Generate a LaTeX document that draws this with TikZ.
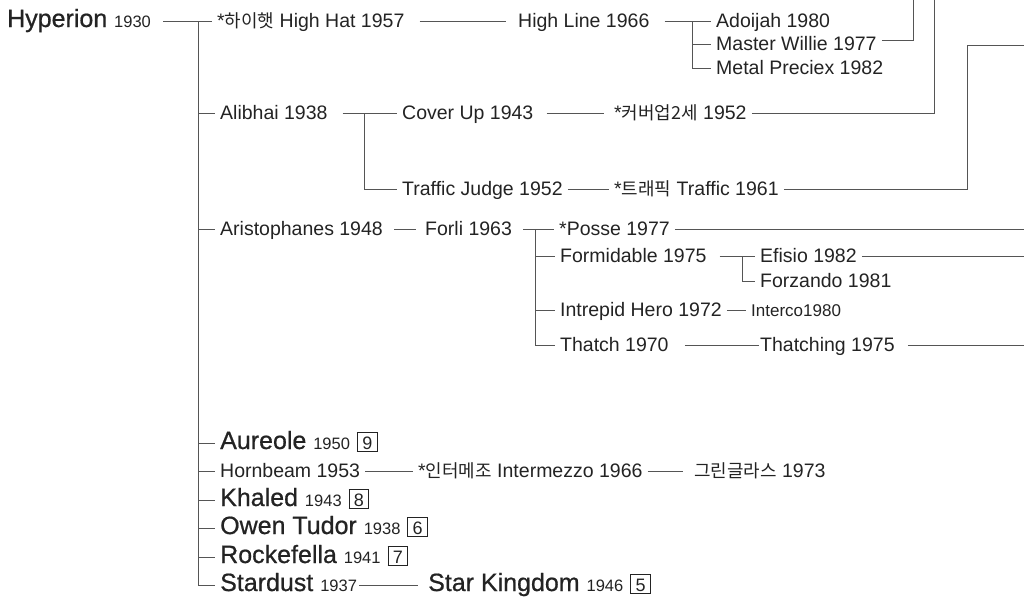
\documentclass[tikz,border=0pt]{standalone}
\usepackage{fontspec}
\setmainfont{Liberation Sans}
\newfontfamily\namefont{Liberation Sans}[FakeBold=0.7]
\newfontfamily\kr{Noto Sans CJK KR}[Scale=0.92]
\usepackage{tikz}
\usetikzlibrary{positioning}
\definecolor{ink}{RGB}{35,35,35}
\definecolor{wire}{RGB}{85,85,85}
\newcommand{\yr}{\normalfont\fontsize{16.5}{18}\selectfont}
\newcommand{\bnum}[1]{{\normalfont\setlength{\fboxsep}{0pt}\setlength{\fboxrule}{0.8pt}%
  \fbox{\makebox[19pt]{\rule[-2pt]{0pt}{18pt}\fontsize{18}{20}\selectfont #1}}}}

\begin{document}
\begin{tikzpicture}[
  x=1pt, y=-1pt,
  nm/.style={anchor=west, inner xsep=5pt, inner ysep=0pt,
             text height=14pt, text depth=2pt, text=ink,
             font=\fontsize{19.5}{22}\selectfont},
  big/.style={nm, font=\namefont\fontsize{25}{28}\selectfont},
  sm/.style={nm, font=\fontsize{17}{20}\selectfont},
  ln/.style={draw=wire, line width=0.9pt}
]
  \useasboundingbox (0,0) rectangle (1024,600);

  % sire line and first branch
  \node[big] (hyp)      at (2,21)   {Hyperion {\yr 1930}};
  \node[nm]  (highhat)  at (212,21) {*{\kr 하이햇} High Hat 1957};
  \node[nm]  (highline) at (513,21) {High Line 1966};
  \node[nm]  (adoijah)  at (711,21) {Adoijah 1980};
  \node[nm]  (willie)   at (711,44) {Master Willie 1977};
  \node[nm]  (metal)    at (711,68) {Metal Preciex 1982};

  \node[nm] (alibhai)  at (215,113) {Alibhai 1938};
  \node[nm] (coverup)  at (397,113) {Cover Up 1943};
  \node[nm] (coverup2) at (609,113) {*{\kr 커버업2세} 1952};
  \node[nm] (tjudge)   at (397,189) {Traffic Judge 1952};
  \node[nm] (traffic2) at (609,189) {*{\kr 트래픽} Traffic 1961};

  \node[nm] (aristo)    at (215,229) {Aristophanes 1948};
  \node[nm] (forli)     at (420,229) {Forli 1963};
  \node[nm] (posse)     at (554,229) {*Posse 1977};
  \node[nm] (formid)    at (555,256) {Formidable 1975};
  \node[nm] (efisio)    at (755,256) {Efisio 1982};
  \node[nm] (forzando)  at (755,281) {Forzando 1981};
  \node[nm] (intrepid)  at (555,310) {Intrepid Hero 1972};
  \node[sm] (interco)   at (746,310) {Interco1980};
  \node[nm] (thatch)    at (555,345) {Thatch 1970};
  \node[nm] (thatching) at (755,345) {Thatching 1975};

  % lower sons
  \node[big] (aureole)    at (215,443) {Aureole {\yr 1950} \bnum{9}};
  \node[nm]  (hornbeam)   at (215,471) {Hornbeam 1953};
  \node[nm]  (intermezzo) at (413,471) {*{\kr 인터메조} Intermezzo 1966};
  \node[nm]  (greenglass) at (689,471) {{\kr 그린글라스} 1973};
  \node[big] (khaled)     at (215,500) {Khaled {\yr 1943} \bnum{8}};
  \node[big] (owen)       at (215,528) {Owen Tudor {\yr 1938} \bnum{6}};
  \node[big] (rockef)     at (215,557) {Rockefella {\yr 1941} \bnum{7}};
  \node[big] (stardust)   at (215,585) {Stardust {\yr 1937}};
  \node[big] (starking)   at (423,585) {Star Kingdom {\yr 1946} \bnum{5}};

  % forks
  \coordinate (trk) at (198,21);
  \coordinate (fkH) at (692,21);
  \coordinate (fkA) at (364,113);
  \coordinate (fkF) at (535,229);
  \coordinate (fkM) at (742,256);
  \coordinate (fkT) at (967,45);
  \coordinate (topW) at (913,0);
  \coordinate (topC) at (934,0);
  \coordinate (edge) at (1024,45);

  \draw[ln, shorten <=7pt] (hyp.east) -- (highhat.west);
  \draw[ln] (trk) |- (stardust.west);
  \foreach \n in {alibhai,aristo,aureole,hornbeam,khaled,owen,rockef}
    \draw[ln] (trk |- \n.west) -- (\n.west);

  \draw[ln, shorten <=10pt, shorten >=7pt] (highhat.east) -- (highline.west);
  \draw[ln, shorten <=10pt] (highline.east) -- (adoijah.west);
  \draw[ln] (fkH) |- (metal.west);
  \draw[ln] (fkH |- willie.west) -- (willie.west);

  \draw[ln, shorten <=10pt] (alibhai.east) -- (coverup.west);
  \draw[ln] (fkA) |- (tjudge.west);
  \draw[ln, shorten <=8pt, shorten >=5pt] (coverup.east) -- (coverup2.west);
  \draw[ln] (tjudge.east) -- (traffic2.west);

  \draw[ln, shorten <=6pt, shorten >=4pt] (aristo.east) -- (forli.west);
  \draw[ln, shorten <=6pt] (forli.east) -- (posse.west);
  \draw[ln] (fkF) |- (thatch.west);
  \foreach \n in {formid,intrepid}
    \draw[ln] (fkF |- \n.west) -- (\n.west);
  \draw[ln, shorten <=8pt] (formid.east) -- (efisio.west);
  \draw[ln] (fkM) |- (forzando.west);
  \draw[ln] (intrepid.east) -- (interco.west);
  \draw[ln, shorten <=11pt, shorten >=-4pt] (thatch.east) -- (thatching.west);

  \draw[ln] (hornbeam.east) -- (intermezzo.west);
  \draw[ln, shorten >=6pt] (intermezzo.east) -- (greenglass.west);
  \draw[ln, shorten <=-3pt, shorten >=5pt] (stardust.east) -- (starking.west);

  % lines running off the page
  \draw[ln] ([yshift=4pt]willie.east) -| (topW);
  \draw[ln] (coverup2.east) -| (topC);
  \draw[ln] (traffic2.east) -| (fkT) -- (edge);
  \draw[ln] (posse.east) -- (posse.east -| edge);
  \draw[ln] (efisio.east) -- (efisio.east -| edge);
  \draw[ln, shorten <=8pt] (thatching.east) -- (thatching.east -| edge);
\end{tikzpicture}
\end{document}
